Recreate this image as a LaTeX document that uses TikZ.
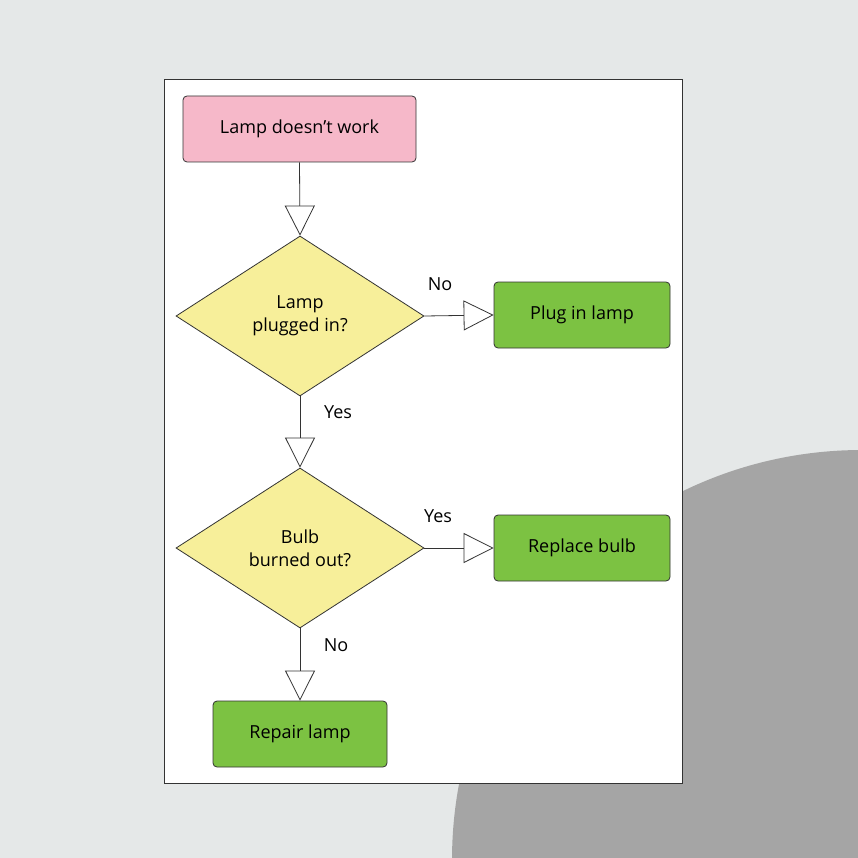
\documentclass[tikz,border=0pt]{standalone}
\usepackage{fontspec}
\setmainfont{Open Sans}
\usetikzlibrary{arrows.meta,shapes.geometric}
\definecolor{bg}{HTML}{E5E8E8}
\definecolor{dk}{HTML}{A5A5A5}
\definecolor{pinkc}{HTML}{F6B8C9}
\definecolor{yel}{HTML}{F7EF9A}
\definecolor{grn}{HTML}{7CC242}
\tikzset{
 box/.style={draw=black!80,line width=0.8pt,rounded corners=4pt,minimum height=66pt,align=center,inner sep=0pt},
 dia/.style={draw=black!80,line width=0.8pt,diamond,fill=yel,minimum width=248pt,minimum height=160pt,align=center,inner sep=0pt},
 arr/.style={draw=black!80,line width=0.8pt,-{Triangle[length=30pt,width=30pt,fill=white]}},
 lab/.style={font=\fontsize{18}{22}\selectfont}
}
\begin{document}
\begin{tikzpicture}[x=1pt,y=-1pt,font=\fontsize{18}{23}\selectfont]
\useasboundingbox (0,0) rectangle (858,858);
\fill[bg] (0,0) rectangle (858,858);
\begin{scope}
\clip (0,0) rectangle (858,858);
\fill[dk] (862,860) circle (410);
\end{scope}
\draw[black!80,line width=1pt,fill=white] (164,80) rectangle (682,783);
\node[box,fill=pinkc,minimum width=233pt] (s) at (299.5,129) {Lamp doesn’t work};
\node[dia] (d1) at (300,316) {Lamp\\plugged in?};
\node[box,fill=grn,minimum width=176pt] (p) at (582,315) {Plug in lamp};
\node[dia] (d2) at (300,548) {Bulb\\burned out?};
\node[box,fill=grn,minimum width=176pt] (r) at (582,548) {Replace bulb};
\node[box,fill=grn,minimum width=174pt] (rl) at (300,734) {Repair lamp};
\draw[arr] (s.south) -- (d1.north);
\draw[arr] (d1.east) -- (p.west);
\draw[arr] (d1.south) -- (d2.north);
\draw[arr] (d2.east) -- (r.west);
\draw[arr] (d2.south) -- (rl.north);
\node[lab] (n1) at (440,284) {No};
\node[lab] (y1) at (338,412) {Yes};
\node[lab] (y2) at (438,516) {Yes};
\node[lab] (n2) at (336,645) {No};
\end{tikzpicture}
\end{document}
